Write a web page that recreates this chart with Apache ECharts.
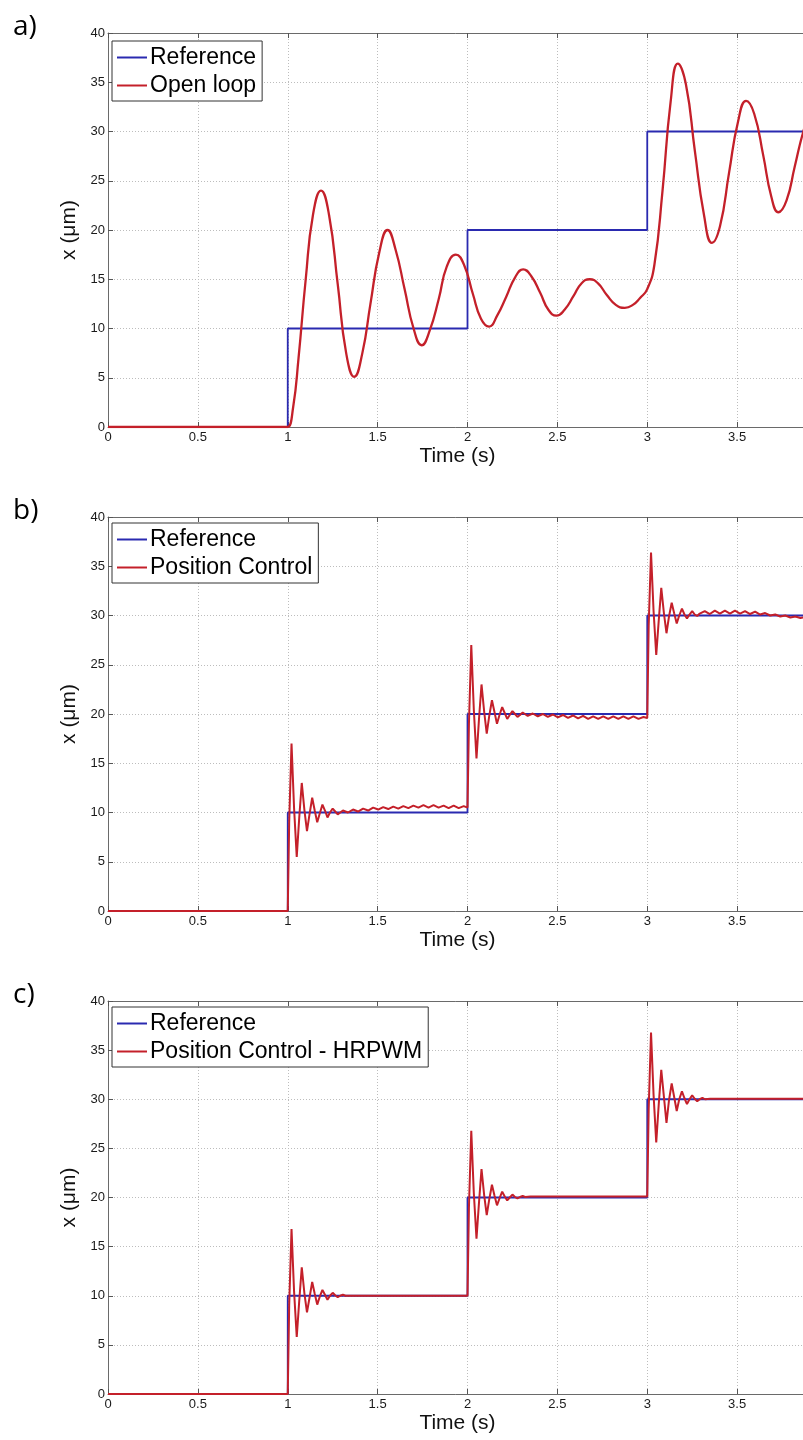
<!DOCTYPE html>
<html>
<head>
<meta charset="utf-8">
<script src="https://cdn.jsdelivr.net/npm/echarts@6/dist/echarts.min.js"></script>
<style>
html,body{margin:0;padding:0;background:#fff;}
#chart{width:803px;height:1440px;}
</style>
</head>
<body>
<div id="chart"></div>
<script>
// ---- data ----
var xTicks = ['0','0.5','1','1.5','2','2.5','3','3.5','4'];
var yTicks = [0,5,10,15,20,25,30,35,40];
var panelLabels = ['a)','b)','c)'];
var responseNames = ['Open loop','Position Control','Position Control - HRPWM'];

// Reference step (time s, x µm)
var reference = [[0,0],[1,0],[1,10],[2,10],[2,20],[3,20],[3,30],[4,30]];

// a) Open loop response
var openLoop = [
 [0,0],[0.98,0],[1.0,0],[1.03,2],[1.06,7],[1.1,15],[1.14,21.5],[1.185,24.0],
 [1.23,21.5],[1.278,14.5],[1.325,7.5],[1.37,5.1],
 [1.415,7.5],[1.46,12.5],[1.51,17.8],[1.555,20.0],
 [1.6,18],[1.65,14],[1.7,10],[1.745,8.3],
 [1.79,9.8],[1.84,13],[1.885,16.3],[1.935,17.5],
 [1.98,16.5],[2.03,13.5],[2.075,11],[2.12,10.2],
 [2.165,11.3],[2.215,13.2],[2.265,15.2],[2.31,16.0],
 [2.355,15.3],[2.405,13.6],[2.45,11.9],[2.495,11.3],
 [2.54,11.9],[2.59,13.3],[2.635,14.6],[2.68,15.0],
 [2.725,14.6],[2.775,13.4],[2.825,12.4],[2.875,12.1],
 [2.92,12.4],[2.96,13.1],[3.0,14.0],[3.04,16.5],[3.085,24],[3.13,33],[3.17,36.9],
 [3.215,34.8],[3.265,28],[3.315,21.6],[3.36,18.7],
 [3.405,20.4],[3.455,25.8],[3.505,31],[3.55,33.1],
 [3.595,31.8],[3.645,27.6],[3.69,23.4],[3.73,21.8],
 [3.775,23],[3.82,26.4],[3.87,30.1],[3.915,32.3],[3.96,33]
];

// b) Position control response
var posControl = [
 [0,0],[1.0,0],[1.008,9],[1.021,17.0],[1.035,10.5],[1.050,5.5],[1.064,9.5],[1.078,13.0],
 [1.093,10.2],[1.107,8.1],[1.121,9.8],[1.136,11.5],[1.150,10.2],[1.164,9.0],[1.178,9.9],
 [1.193,10.8],[1.207,10.2],[1.221,9.5],[1.235,10.0],[1.250,10.4],[1.264,10.1],[1.278,9.8],
 [1.292,10.0],[1.307,10.2],
 [1.335,10.0],[1.363,10.3],[1.391,10.1],[1.419,10.4],[1.447,10.2],[1.475,10.5],[1.503,10.3],
 [1.531,10.55],[1.559,10.35],[1.587,10.6],[1.615,10.4],[1.643,10.65],[1.671,10.45],[1.699,10.7],
 [1.727,10.5],[1.755,10.75],[1.783,10.5],[1.811,10.75],[1.839,10.5],[1.867,10.7],[1.895,10.45],
 [1.923,10.7],[1.951,10.45],[1.979,10.65],[2.0,10.5],
 [2.008,19],[2.021,27.0],[2.035,20.5],[2.050,15.5],[2.064,19.5],[2.078,23.0],[2.093,20.2],
 [2.107,18.0],[2.121,19.8],[2.136,21.4],[2.150,20.2],[2.164,19.0],[2.178,19.9],[2.193,20.7],
 [2.207,20.1],[2.221,19.5],[2.235,19.9],[2.250,20.3],[2.264,20.0],[2.278,19.7],[2.292,19.9],
 [2.307,20.15],
 [2.335,19.8],[2.363,20.05],[2.391,19.75],[2.419,20.0],[2.447,19.7],[2.475,19.95],[2.503,19.65],
 [2.531,19.9],[2.559,19.6],[2.587,19.85],[2.615,19.55],[2.643,19.8],[2.671,19.5],[2.699,19.75],
 [2.727,19.5],[2.755,19.75],[2.783,19.5],[2.811,19.75],[2.839,19.5],[2.867,19.75],[2.895,19.5],
 [2.923,19.75],[2.951,19.5],[2.979,19.7],[3.0,19.6],
 [3.008,29],[3.021,36.4],[3.035,30.5],[3.050,26.0],[3.064,29.5],[3.078,32.8],[3.093,30.2],
 [3.107,28.2],[3.121,29.9],[3.136,31.3],[3.150,30.2],[3.164,29.2],[3.178,30.0],[3.193,30.7],
 [3.207,30.1],[3.221,29.7],[3.235,30.1],[3.250,30.45],[3.264,30.1],[3.278,29.95],[3.292,30.2],
 [3.320,30.45],[3.348,30.15],[3.376,30.5],[3.404,30.2],[3.432,30.5],[3.460,30.2],[3.488,30.5],
 [3.516,30.2],[3.544,30.45],[3.572,30.15],[3.600,30.4],[3.628,30.1],[3.656,30.25],[3.684,30.0],
 [3.712,30.1],[3.740,29.9],[3.768,30.0],[3.796,29.8],[3.824,29.9],[3.852,29.75],[3.880,29.85],
 [3.908,29.75],[3.95,29.8],[4.0,29.8]
];

// c) Position control - HRPWM response
var posControlHRPWM = [
 [0,0],[1.0,0],[1.008,9],[1.021,16.8],[1.035,10.5],[1.050,5.8],[1.064,9.5],[1.078,12.9],
 [1.093,10.2],[1.107,8.3],[1.121,9.8],[1.136,11.4],[1.150,10.2],[1.164,9.1],[1.178,9.9],
 [1.193,10.6],[1.207,10.1],[1.221,9.6],[1.235,10.0],[1.250,10.3],[1.264,10.05],[1.278,9.85],
 [1.292,10.0],[1.307,10.1],[1.321,10.0],[1.35,10.0],[2.0,10.0],
 [2.008,19],[2.021,26.8],[2.035,20.5],[2.050,15.8],[2.064,19.5],[2.078,22.9],[2.093,20.2],
 [2.107,18.2],[2.121,19.8],[2.136,21.3],[2.150,20.2],[2.164,19.2],[2.178,19.9],[2.193,20.6],
 [2.207,20.1],[2.221,19.7],[2.235,20.0],[2.250,20.3],[2.264,20.05],[2.278,19.9],[2.292,20.05],
 [2.307,20.15],[2.321,20.05],[2.35,20.1],[3.0,20.1],
 [3.008,29],[3.021,36.8],[3.035,30.5],[3.050,25.6],[3.064,29.5],[3.078,33.0],[3.093,30.2],
 [3.107,27.6],[3.121,29.9],[3.136,31.6],[3.150,30.2],[3.164,28.8],[3.178,30.0],[3.193,30.8],
 [3.207,30.1],[3.221,29.5],[3.235,30.0],[3.250,30.4],[3.264,30.05],[3.278,29.8],[3.292,30.0],
 [3.307,30.15],[3.321,30.0],[3.35,30.05],[4.0,30.05]
];

var responses = [openLoop, posControl, posControlHRPWM];

// ---- layout / styles ----
var FONT = '"Liberation Sans", Arial, sans-serif';
var BLUE = '#2a2ab0';
var RED = '#c4202a';
var gridTops = [33, 517, 1001];
var gridHeights = [394, 394, 393];
var legendTops = [41, 523, 1007];

var grids = [], xAxes = [], yAxes = [], series = [], legends = [], graphics = [];
for (var i = 0; i < 3; i++) {
  grids.push({left: 108, top: gridTops[i], width: 719, height: gridHeights[i], show: false,
    containLabel: false, outerBoundsMode: 'none'});
  xAxes.push({
    type: 'value', gridIndex: i, min: 0, max: 4, interval: 0.5, position: 'bottom',
    name: 'Time (s)', nameLocation: 'middle', nameGap: 19,
    nameTextStyle: {fontFamily: FONT, fontSize: 21, color: '#111', padding: [0, 20, 0, 0]},
    axisLine: {show: true, onZero: false, lineStyle: {color: '#6a6a6a', width: 1}},
    axisTick: {show: true, inside: true, length: 5, lineStyle: {color: '#555'}},
    axisLabel: {fontFamily: FONT, fontSize: 13, color: '#1a1a1a', margin: 4,
      formatter: function (v) { var s = String(v); return xTicks.indexOf(s) >= 0 ? s : ''; }},
    splitLine: {show: true, lineStyle: {color: '#bdbdbd', type: [1, 2], width: 1}}
  });
  xAxes.push({
    type: 'value', gridIndex: i, min: 0, max: 4, interval: 0.5, position: 'top',
    axisLine: {show: true, onZero: false, lineStyle: {color: '#6a6a6a', width: 1}},
    axisTick: {show: true, inside: true, length: 5, lineStyle: {color: '#555'}},
    axisLabel: {show: false}, splitLine: {show: false}
  });
  yAxes.push({
    type: 'value', gridIndex: i, min: yTicks[0], max: yTicks[yTicks.length - 1], interval: 5,
    name: 'x (μm)', nameLocation: 'middle', nameGap: 24,
    nameTextStyle: {fontFamily: FONT, fontSize: 21, color: '#111'},
    axisLine: {show: true, onZero: false, lineStyle: {color: '#6a6a6a', width: 1}},
    axisTick: {show: true, inside: true, length: 5, lineStyle: {color: '#555'}},
    axisLabel: {fontFamily: FONT, fontSize: 13, color: '#1a1a1a', margin: 3},
    splitLine: {show: true, lineStyle: {color: '#bdbdbd', type: [1, 2], width: 1}}
  });
  series.push({
    name: 'Reference', type: 'line', xAxisIndex: 2 * i, yAxisIndex: i,
    data: reference, symbol: 'none', z: 2,
    lineStyle: {color: BLUE, width: 1.8}, itemStyle: {color: BLUE}
  });
  series.push({
    name: responseNames[i], type: 'line', xAxisIndex: 2 * i, yAxisIndex: i,
    data: responses[i], symbol: 'none', z: 3, smooth: i === 0 ? 0.5 : false,
    lineStyle: {color: RED, width: i === 0 ? 2.3 : 2}, itemStyle: {color: RED}
  });
  legends.push({
    data: ['Reference', responseNames[i]], orient: 'vertical', left: 112, top: legendTops[i],
    selectedMode: false, icon: 'rect', itemWidth: 30, itemHeight: 2, itemGap: 5,
    itemStyle: {borderWidth: 0},
    padding: [5, 6, 4, 5], borderColor: '#333', borderWidth: 1, backgroundColor: '#fff',
    textStyle: {fontFamily: FONT, fontSize: 23, color: '#000', padding: [0, 0, 0, -2]}
  });
  graphics.push({
    type: 'text', left: 13, top: gridTops[i] - 20,
    style: {text: panelLabels[i], font: '28px "Open Sans", "Noto Sans", sans-serif', fill: '#000'}
  });
}

var chart = echarts.init(document.getElementById('chart'), null, {renderer: 'canvas'});
chart.setOption({
  backgroundColor: '#fff',
  animation: false,
  grid: grids,
  xAxis: xAxes,
  yAxis: yAxes,
  legend: legends,
  series: series,
  graphic: graphics
});
</script>
</body>
</html>
